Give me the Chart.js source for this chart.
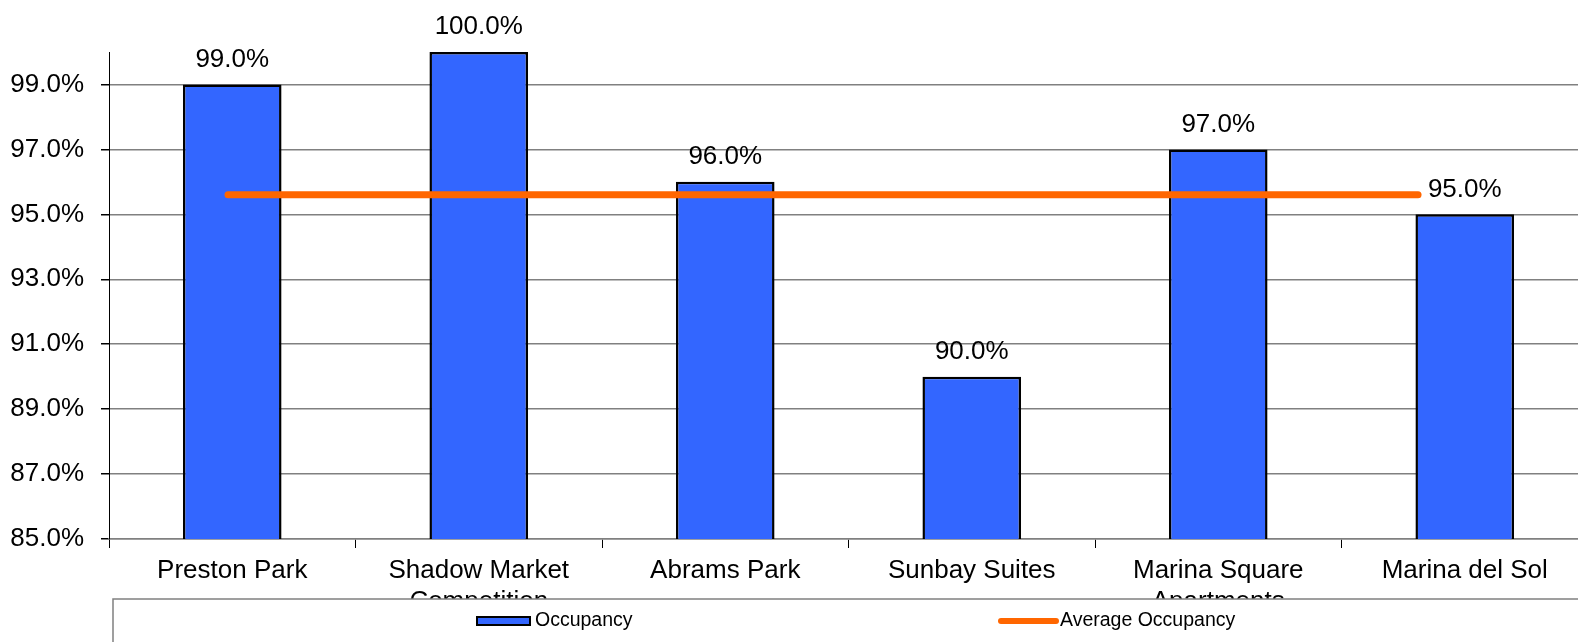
<!DOCTYPE html>
<html>
<head>
<meta charset="utf-8">
<title>Occupancy</title>
<script src="https://cdn.jsdelivr.net/npm/chart.js"></script>
<style>
  html, body { margin: 0; padding: 0; background: #fff; overflow: hidden; }
  #wrap { width: 1578px; height: 642px; overflow: hidden; }
  canvas { display: block; }
</style>
</head>
<body>
<div id="wrap">
  <!-- plot runs a little past the right edge of the visible area -->
  <canvas id="chart" width="1588" height="642"></canvas>
</div>
<script>
  // --- data ---
  const properties = [
    'Preston Park',
    ['Shadow Market', 'Competition'],
    'Abrams Park',
    'Sunbay Suites',
    ['Marina Square', 'Apartments'],
    'Marina del Sol'
  ];
  const occupancy = [99.0, 100.0, 96.0, 90.0, 97.0, 95.0];
  const averageOccupancy = 95.6;
  const yTickValues = [85, 87, 89, 91, 93, 95, 97, 99];

  const FONT = "'Liberation Sans', Arial, sans-serif";
  const BAR_BLUE = '#3366FF';
  const AVG_ORANGE = '#FF6600';

  // value labels above each bar
  const barLabels = {
    id: 'barLabels',
    afterDatasetsDraw(chart) {
      const ctx = chart.ctx;
      const meta = chart.getDatasetMeta(0);
      ctx.save();
      ctx.font = '26px ' + FONT;
      ctx.fillStyle = '#000';
      ctx.textAlign = 'center';
      ctx.textBaseline = 'middle';
      meta.data.forEach((bar, i) => {
        ctx.fillText(occupancy[i].toFixed(1) + '%', bar.x, bar.y - 25);
      });
      ctx.restore();
    }
  };

  // boxed legend laid over the bottom of the axis labels
  const boxLegend = {
    id: 'boxLegend',
    afterDraw(chart) {
      const ctx = chart.ctx;
      const top = 599, left = 113;
      ctx.save();
      ctx.fillStyle = '#fff';
      ctx.fillRect(left, top, chart.width - left + 5, chart.height - top + 5);
      ctx.strokeStyle = '#808080';
      ctx.lineWidth = 1.5;
      ctx.strokeRect(left, top, chart.width - left + 5, chart.height - top + 5);

      const cy = 621;
      ctx.font = '19.5px ' + FONT;
      ctx.textBaseline = 'middle';
      ctx.textAlign = 'left';

      // Occupancy swatch
      ctx.fillStyle = BAR_BLUE;
      ctx.fillRect(477, cy - 4, 53, 8);
      ctx.strokeStyle = '#000';
      ctx.lineWidth = 2;
      ctx.strokeRect(477, cy - 4, 53, 8);
      ctx.fillStyle = '#000';
      ctx.fillText(chart.data.datasets[0].label, 535, cy);

      // Average swatch
      ctx.strokeStyle = AVG_ORANGE;
      ctx.lineWidth = 6;
      ctx.lineCap = 'round';
      ctx.beginPath();
      ctx.moveTo(1001, cy);
      ctx.lineTo(1056, cy);
      ctx.stroke();
      ctx.fillText(chart.data.datasets[1].label, 1060, cy);
      ctx.restore();
    }
  };

  new Chart(document.getElementById('chart').getContext('2d'), {
    type: 'bar',
    data: {
      labels: properties,
      datasets: [
        {
          type: 'bar',
          label: 'Occupancy',
          data: occupancy,
          backgroundColor: BAR_BLUE,
          borderColor: '#000',
          borderWidth: 2.5,
          borderSkipped: false,
          grouped: false,
          barPercentage: 0.4,
          categoryPercentage: 1.0,
          order: 2
        },
        {
          type: 'line',
          label: 'Average Occupancy',
          data: properties.map((p, i) => ({ x: i, y: averageOccupancy })),
          xAxisID: 'x2',
          borderColor: AVG_ORANGE,
          borderWidth: 7,
          borderCapStyle: 'round',
          pointRadius: 0,
          fill: false,
          order: 1
        }
      ]
    },
    options: {
      responsive: false,
      animation: false,
      layout: { padding: { top: 52, right: 0, bottom: 0, left: 0 } },
      plugins: {
        legend: { display: false },
        title: { display: false },
        tooltip: { enabled: false }
      },
      scales: {
        x: {
          offset: true,
          afterFit: function (scale) { scale.height = 103; },
          grid: {
            offset: true,
            drawOnChartArea: false,
            drawTicks: true,
            tickLength: 9,
            color: '#000'
          },
          border: { color: '#808080', width: 1.5 },
          ticks: {
            color: '#000',
            padding: 7,
            maxRotation: 0,
            autoSkip: false,
            font: { family: FONT, size: 26 }
          }
        },
        // secondary axis carrying the average line
        x2: {
          type: 'linear',
          display: false,
          offset: false,
          bounds: 'data',
          grid: { offset: false },
          min: -0.5,
          max: 5.714,
          afterDataLimits: function (scale) { scale.min = -0.5; scale.max = 5.714; }
        },
        y: {
          min: 85,
          max: 100,
          afterFit: function (scale) { scale.width = 109; },
          afterBuildTicks: function (scale) {
            scale.ticks = yTickValues.map(v => ({ value: v }));
          },
          grid: {
            color: '#808080',
            lineWidth: 1.5,
            drawTicks: true,
            tickLength: 8,
            tickColor: '#000'
          },
          border: { color: '#000', width: 1 },
          ticks: {
            color: '#000',
            padding: 17,
            font: { family: FONT, size: 26 },
            callback: function (value) { return Number(value).toFixed(1) + '%'; }
          }
        }
      }
    },
    plugins: [barLabels, boxLegend]
  });
</script>
</body>
</html>
